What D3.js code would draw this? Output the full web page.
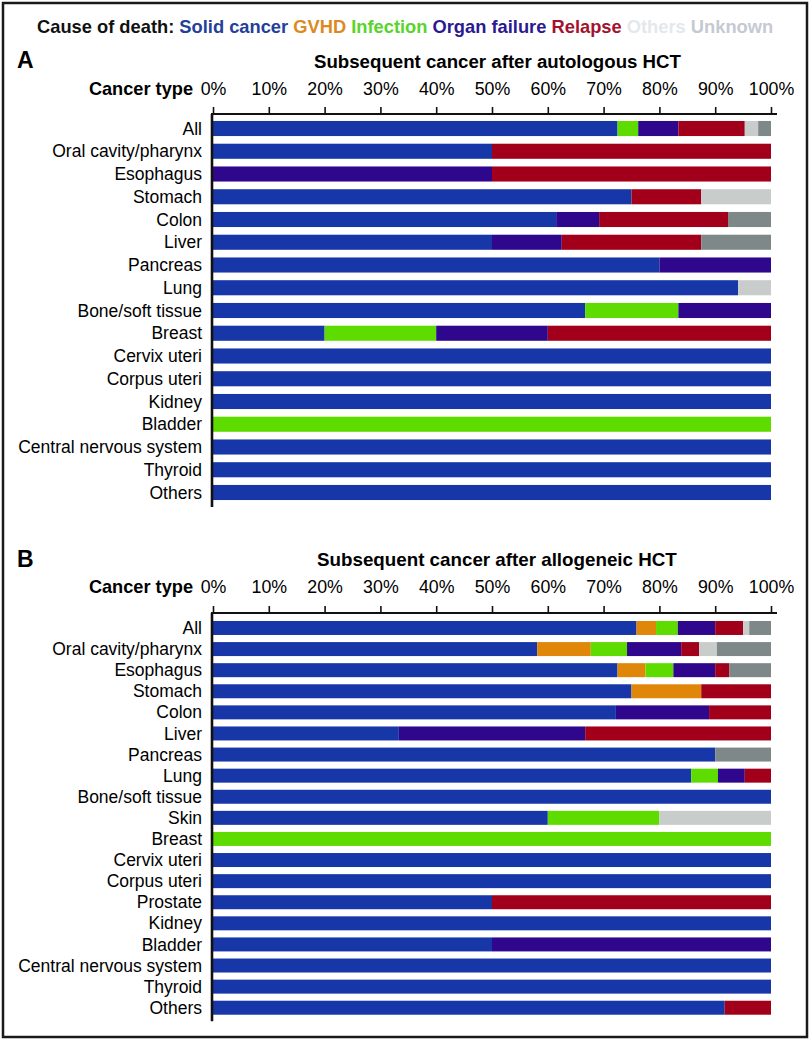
<!DOCTYPE html>
<html>
<head>
<meta charset="utf-8">
<script src="https://cdn.jsdelivr.net/npm/d3@7"></script>
<style>
  html, body { margin: 0; padding: 0; background: #fff; }
  svg { display: block; }
  text { font-family: "Liberation Sans", Arial, Helvetica, sans-serif; }
</style>
</head>
<body>
<svg id="chart" width="810" height="1040"></svg>
<script>
// ---------- DATA ----------
const causes = ["Solid cancer", "GVHD", "Infection", "Organ failure", "Relapse", "Others", "Unknown"];
const causeKeys = ["solid", "gvhd", "infection", "organ", "relapse", "others", "unknown"];
const barColors = ["#1736a8", "#e0870a", "#5edc00", "#2f078d", "#a2001a", "#c8cccb", "#7e8888"];
const legendColors = ["#23409a", "#dc8a20", "#58d42a", "#2c1890", "#a3122e", "#e4e8ec", "#c5c9d3"];
const tickValues = [0, 10, 20, 30, 40, 50, 60, 70, 80, 90, 100];

// Panel A: autologous HCT
const categoriesA = ["All", "Oral cavity/pharynx", "Esophagus", "Stomach", "Colon", "Liver", "Pancreas", "Lung",
  "Bone/soft tissue", "Breast", "Cervix uteri", "Corpus uteri", "Kidney", "Bladder", "Central nervous system", "Thyroid", "Others"];
const solidA     = [72.5, 50, 0, 75, 61.5, 50, 80, 94.1, 66.7, 20, 100, 100, 100, 0, 100, 100, 100];
const gvhdA      = [0, 0, 0, 0, 0, 0, 0, 0, 0, 0, 0, 0, 0, 0, 0, 0, 0];
const infectionA = [3.7, 0, 0, 0, 0, 0, 0, 0, 16.7, 20, 0, 0, 0, 100, 0, 0, 0];
const organA     = [7.2, 0, 50, 0, 7.7, 12.5, 20, 0, 16.6, 20, 0, 0, 0, 0, 0, 0, 0];
const relapseA   = [11.9, 50, 50, 12.5, 23.1, 25, 0, 0, 0, 40, 0, 0, 0, 0, 0, 0, 0];
const othersA    = [2.4, 0, 0, 12.5, 0, 0, 0, 5.9, 0, 0, 0, 0, 0, 0, 0, 0, 0];
const unknownA   = [2.3, 0, 0, 0, 7.7, 12.5, 0, 0, 0, 0, 0, 0, 0, 0, 0, 0, 0];

// Panel B: allogeneic HCT
const categoriesB = ["All", "Oral cavity/pharynx", "Esophagus", "Stomach", "Colon", "Liver", "Pancreas", "Lung",
  "Bone/soft tissue", "Skin", "Breast", "Cervix uteri", "Corpus uteri", "Prostate", "Kidney", "Bladder",
  "Central nervous system", "Thyroid", "Others"];
const solidB     = [75.9, 58.1, 72.5, 75, 72.2, 33.3, 90, 85.7, 100, 60, 0, 100, 100, 50, 100, 50, 100, 100, 91.7];
const gvhdB      = [3.5, 9.6, 5, 12.5, 0, 0, 0, 0, 0, 0, 0, 0, 0, 0, 0, 0, 0, 0, 0];
const infectionB = [3.9, 6.5, 5, 0, 0, 0, 0, 4.8, 0, 20, 100, 0, 0, 0, 0, 0, 0, 0, 0];
const organB     = [6.7, 9.7, 7.5, 0, 16.7, 33.4, 0, 4.8, 0, 0, 0, 0, 0, 0, 0, 50, 0, 0, 0];
const relapseB   = [5.0, 3.2, 2.5, 12.5, 11.1, 33.3, 0, 4.7, 0, 0, 0, 0, 0, 50, 0, 0, 0, 0, 8.3];
const othersB    = [1.1, 3.2, 0, 0, 0, 0, 0, 0, 0, 20, 0, 0, 0, 0, 0, 0, 0, 0, 0];
const unknownB   = [3.9, 9.7, 7.5, 0, 0, 0, 10, 0, 0, 0, 0, 0, 0, 0, 0, 0, 0, 0, 0];

// ---------- DRAW ----------
const svg = d3.select("#chart");
svg.append("rect").attr("x", 0).attr("y", 0).attr("width", 810).attr("height", 1040).attr("fill", "#fff");
svg.append("rect").attr("x", 3).attr("y", 3).attr("width", 804).attr("height", 1034)
  .attr("fill", "none").attr("stroke", "#1a1a1a").attr("stroke-width", 2.5);

function fitWidth(sel, target) {
  const node = sel.node();
  const fs = parseFloat(sel.attr("font-size"));
  const w = node.getComputedTextLength();
  if (w > 0) sel.attr("font-size", (fs * target / w).toFixed(2));
}

// Legend
const legend = svg.append("text").attr("x", 37).attr("y", 33)
  .attr("font-size", 17.8).attr("font-weight", "bold");
legend.append("tspan").attr("fill", "#111").text("Cause of death:");
causes.forEach((c, i) => {
  legend.append("tspan").attr("fill", legendColors[i]).text(" " + c);
});
fitWidth(legend, 736);

const x = d3.scaleLinear().domain([0, 100]).range([213, 771]);

function panel(opts) {
  const { letter, letterY, title, titleX, titleW, titleY, headY, axisY, yRange, cats, series } = opts;
  const g = svg.append("g");

  g.append("text").attr("x", 17).attr("y", letterY).attr("font-size", 23).attr("font-weight", "bold")
    .attr("fill", "#000").text(letter);

  const t = g.append("text").attr("x", titleX).attr("y", titleY).attr("font-size", 18)
    .attr("font-weight", "bold").attr("fill", "#000").text(title);
  fitWidth(t, titleW);

  g.append("text").attr("x", 193).attr("y", headY).attr("text-anchor", "end")
    .attr("font-size", 18.2).attr("font-weight", "bold").attr("fill", "#000").text("Cancer type");

  const y = d3.scaleBand().domain(cats).range(yRange).paddingInner(0.337).paddingOuter(0.17);

  const rows = cats.map((c, i) => {
    const r = { cat: c };
    causeKeys.forEach((k, j) => r[k] = series[j][i]);
    return r;
  });
  const stacked = d3.stack().keys(causeKeys)(rows);

  g.selectAll("g.layer").data(stacked).join("g").attr("class", "layer")
    .attr("fill", (d, i) => barColors[i])
    .selectAll("rect").data(d => d).join("rect")
    .attr("x", d => x(d[0]))
    .attr("width", d => Math.max(0, x(d[1]) - x(d[0])))
    .attr("y", d => y(d.data.cat))
    .attr("height", y.bandwidth());

  // top axis
  const axis = d3.axisTop(x).tickValues(tickValues).tickFormat(d => d + "%")
    .tickSize(7).tickSizeOuter(0).tickPadding(axisY - headY - 6.5);
  const ag = g.append("g").attr("transform", `translate(0,${axisY})`).call(axis);
  ag.select(".domain").remove();
  ag.selectAll(".tick line").attr("stroke", "#111").attr("stroke-width", 1.6);
  ag.selectAll(".tick text").attr("font-size", 17.8).attr("fill", "#000")
    .attr("font-family", '"Liberation Sans", Arial, Helvetica, sans-serif').attr("dy", 0);
  g.append("line").attr("x1", 211).attr("x2", 777).attr("y1", axisY).attr("y2", axisY)
    .attr("stroke", "#111").attr("stroke-width", 2);

  // left axis line
  g.append("line").attr("x1", 212).attr("x2", 212).attr("y1", axisY).attr("y2", yRange[1] + 3)
    .attr("stroke", "#111").attr("stroke-width", 2.6);

  // category labels
  g.selectAll("text.cat").data(cats).join("text").attr("class", "cat")
    .attr("x", 202).attr("y", d => y(d) + y.bandwidth() / 2).attr("dy", "0.35em")
    .attr("text-anchor", "end").attr("font-size", 17.5).attr("fill", "#000").text(d => d);
}

panel({
  letter: "A", letterY: 68, title: "Subsequent cancer after autologous HCT", titleX: 314, titleW: 367, titleY: 68,
  headY: 95, axisY: 114, yRange: [117.1, 503.9], cats: categoriesA,
  series: [solidA, gvhdA, infectionA, organA, relapseA, othersA, unknownA]
});

panel({
  letter: "B", letterY: 567, title: "Subsequent cancer after allogeneic HCT", titleX: 317, titleW: 360, titleY: 566,
  headY: 593, axisY: 613, yRange: [617.4, 1018.3], cats: categoriesB,
  series: [solidB, gvhdB, infectionB, organB, relapseB, othersB, unknownB]
});
</script>
</body>
</html>
